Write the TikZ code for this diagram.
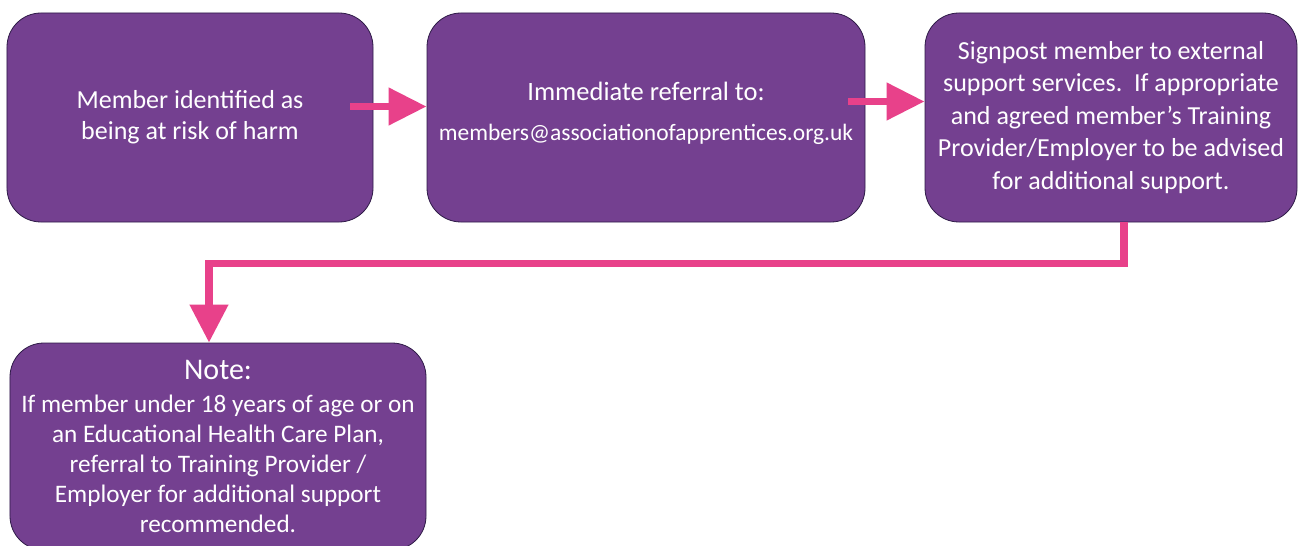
\documentclass[tikz,border=0pt]{standalone}
\usepackage{fontspec}
\setmainfont{Carlito}
\usetikzlibrary{arrows.meta,calc}
\definecolor{boxpurple}{RGB}{116,64,144}
\definecolor{boxedge}{RGB}{46,26,71}
\definecolor{arrowpink}{RGB}{232,65,138}
\tikzset{
  flowbox/.style={draw=boxedge, line width=0.8bp, fill=boxpurple, rounded corners=34bp,
    text=white, align=center, inner sep=0pt},
  pinkarrow/.style={draw=arrowpink, line width=7.5bp,
    -{Triangle[length=38bp,width=36bp]}},
}
\begin{document}
\begin{tikzpicture}[x=1bp,y=-1bp]
\useasboundingbox (0,0) rectangle (1299,546);
\clip (0,0) rectangle (1299,546);
\fill[white] (0,0) rectangle (1299,546);
\node[flowbox, minimum width=366bp, minimum height=209bp,
  font=\fontsize{26bp}{31bp}\selectfont] (b1) at (190,117.5)
  {Member identified as\\being at risk of harm};
\node[flowbox, minimum width=438bp, minimum height=209bp,
  font=\fontsize{23.5bp}{40bp}\selectfont] (b2) at (646,117.5)
  {{\fontsize{26.5bp}{40bp}\selectfont Immediate referral to:}\\members@associationofapprentices.org.uk\\[-28bp]\mbox{}};
\node[flowbox, minimum width=372bp, minimum height=209bp,
  font=\fontsize{26bp}{32.5bp}\selectfont] (b3) at (1111,117.5)
  {Signpost member to external\\support services.\ \ If appropriate\\and agreed member’s Training\\Provider/Employer to be advised\\for additional support.};
\node[flowbox, minimum width=416bp, minimum height=207bp,
  font=\fontsize{25.2bp}{30bp}\selectfont] (b4) at (218,446.5)
  {{\fontsize{30bp}{30bp}\selectfont Note:}\\[3bp]If member under 18 years of age or on\\an Educational Health Care Plan,\\referral to Training Provider /\\Employer for additional support\\recommended.};
\draw[pinkarrow] ($(b1.east)+(-23,-11)$) -- ($(b2.west)+(0,-11)$);
\draw[pinkarrow] ($(b2.east)+(-17,-16)$) -- ($(b3.west)+(0,-16)$);
\coordinate (c1) at ($(b3.south)+(13,0)$);
\draw[draw=arrowpink, line width=7.5bp, -{Triangle[length=38bp,width=37bp]}]
  (c1) -- ++(0,41) -| ($(b4.north)+(-9,0)$);
\end{tikzpicture}
\end{document}
